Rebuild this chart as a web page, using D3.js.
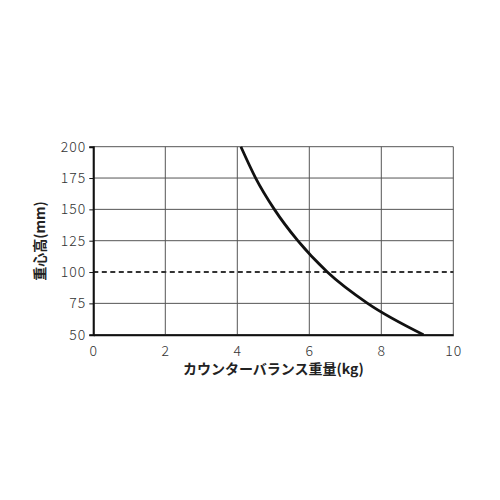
<html>
<head>
<style>
body
{
  margin:0;
  background:#fff;
}
</style>
<script src="https://cdnjs.cloudflare.com/ajax/libs/d3/7.8.5/d3.min.js"></script>
</head>
<body>
<script>
// counterbalance weight (kg) vs centre-of-gravity height (mm)
var weightKg = [4.10, 4.51, 5.03, 5.68, 6.50, 7.62, 9.17];
var heightMm = [200, 175, 150, 125, 100, 75, 50];
var xTicks = [0, 2, 4, 6, 8, 10];
var yTicks = [50, 75, 100, 125, 150, 175, 200];
var refLine = 100;

var w = 500, h = 500;
var plotL = 93.3, plotR = 453.3, plotT = 146.7, plotB = 334.7;
var font = "'Noto Sans CJK JP', 'Noto Sans', sans-serif";

var svg = d3.select("body")
  .append("svg")
  .attr("width", w)
  .attr("height", h);

var x = d3.scaleLinear().domain([0, 10]).range([plotL, plotR]);
var y = d3.scaleLinear().domain([50, 200]).range([plotB, plotT]);

// grid
svg.append("g")
  .selectAll("line")
  .data(xTicks)
  .enter().append("line")
  .attr("x1", function(d){ return x(d); })
  .attr("x2", function(d){ return x(d); })
  .attr("y1", plotT)
  .attr("y2", plotB)
  .style("stroke", "#555")
  .style("stroke-width", 1);

svg.append("g")
  .selectAll("line")
  .data(yTicks)
  .enter().append("line")
  .attr("x1", plotL)
  .attr("x2", plotR)
  .attr("y1", function(d){ return y(d); })
  .attr("y2", function(d){ return y(d); })
  .style("stroke", function(d){ return d == refLine ? "none" : "#555"; })
  .style("stroke-width", 1);

// dashed reference line
svg.append("line")
  .attr("x1", plotL)
  .attr("x2", plotR)
  .attr("y1", y(refLine))
  .attr("y2", y(refLine))
  .style("stroke", "#333")
  .style("stroke-width", 2)
  .style("stroke-dasharray", "5,3.5");

// axes
var xAxis = svg.append("g")
  .attr("transform", "translate(0," + plotB + ")")
  .call(d3.axisBottom(x).tickValues(xTicks).tickSize(0).tickPadding(11));
var yAxis = svg.append("g")
  .attr("transform", "translate(" + plotL + ",0)")
  .call(d3.axisLeft(y).tickValues(yTicks).tickSize(4).tickPadding(3));

[xAxis, yAxis].forEach(function(a){
  a.select(".domain").style("stroke", "#111").style("stroke-width", 2);
  a.selectAll("text")
    .style("font-family", font)
    .style("font-size", "14px")
    .style("font-weight", "300")
    .style("letter-spacing", "1px")
    .style("fill", "#333");
  a.selectAll(".tick line").style("stroke", "#111");
});

// curve
var line = d3.line()
  .x(function(d, i){ return x(weightKg[i]); })
  .y(function(d){ return y(d); })
  .curve(d3.curveMonotoneX);

svg.append("path")
  .datum(heightMm)
  .attr("d", line)
  .style("fill", "none")
  .style("stroke", "#111")
  .style("stroke-width", 2.8);

// titles
svg.append("text")
  .attr("x", (plotL + plotR) / 2)
  .attr("y", 374)
  .attr("text-anchor", "middle")
  .style("font-family", font)
  .style("font-size", "14px")
  .style("font-weight", "bold")
  .style("fill", "#222")
  .text("カウンターバランス重量(kg)");

svg.append("text")
  .attr("transform", "translate(45,241) rotate(-90)")
  .attr("text-anchor", "middle")
  .style("font-family", font)
  .style("font-size", "14px")
  .style("font-weight", "bold")
  .style("fill", "#222")
  .text("重心高(mm)");
</script>
</body>
</html>
